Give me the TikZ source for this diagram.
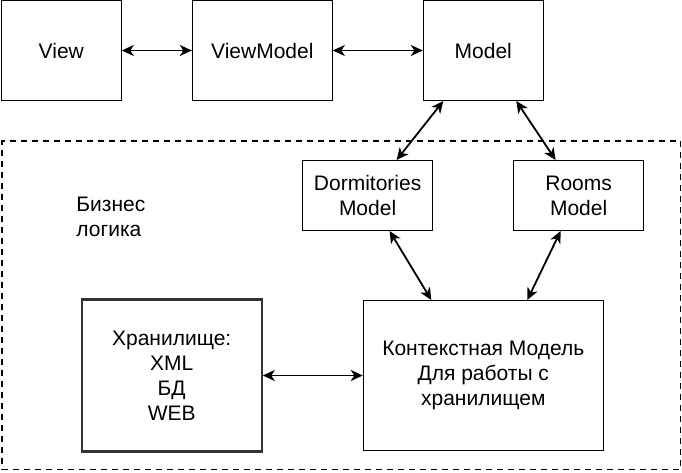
\documentclass[tikz,border=0pt]{standalone}
\usepackage{fontspec}
\setmainfont{Liberation Sans}
\usetikzlibrary{positioning,arrows.meta}

\begin{document}
\begin{tikzpicture}[
  x=1pt, y=-1pt,
  font=\fontsize{21}{25}\selectfont,
  box/.style={draw, line width=1pt, align=center, inner sep=0pt, minimum width=120pt, minimum height=100pt},
  small/.style={box, minimum width=130pt, minimum height=70pt},
  store/.style={box, line width=2.2pt, draw=black!80, minimum width=180pt, minimum height=152pt},
  ctxbox/.style={box, minimum width=240pt, minimum height=150pt},
  frame/.style={draw, line width=1.5pt, dash pattern=on 6pt off 5pt, inner sep=0pt},
  arr/.style={{Stealth[length=12pt,width=11pt,inset=3.5pt]}-{Stealth[length=12pt,width=11pt,inset=3.5pt]}, line width=1.8pt}
]
\useasboundingbox (0,0) rectangle (682,472);

\node[box] (view) at (61.3,50.5) {View};
\node[box, minimum width=140pt, right=70pt of view] (vm) {ViewModel};
\node[box, right=90pt of vm] (model) {Model};

\node[frame, minimum width=678.5pt, minimum height=328.5pt] (biz) at (341.25,305.25) {};
\node[anchor=north west, align=left, inner sep=0pt] (bizlabel) at ([xshift=75pt,yshift=-57pt]biz.north west) {Бизнес\\логика};

\node[small, below=59pt of model, xshift=-115.7pt] (dorm) {Dormitories\\Model};
\node[small, right=80pt of dorm] (rooms) {Rooms\\Model};

\coordinate (c) at (dorm.south -| model.south);
\node[ctxbox, below=69pt of c] (ctx) {Контекстная Модель\\Для работы с\\хранилищем};
\node[store, left=100pt of ctx] (store) {Хранилище:\\XML\\БД\\WEB};

\draw[arr] (view) -- (vm);
\draw[arr] (vm) -- (model);
\draw[arr] ([xshift=-40pt]model.south) -- ([xshift=29pt]dorm.north);
\draw[arr] ([xshift=33pt]model.south) -- ([xshift=-23pt]rooms.north);
\draw[arr] ([xshift=22pt]dorm.south) -- ([xshift=-52pt]ctx.north);
\draw[arr] ([xshift=-18pt]rooms.south) -- ([xshift=44pt]ctx.north);
\draw[arr] (store) -- (ctx);
\end{tikzpicture}
\end{document}
